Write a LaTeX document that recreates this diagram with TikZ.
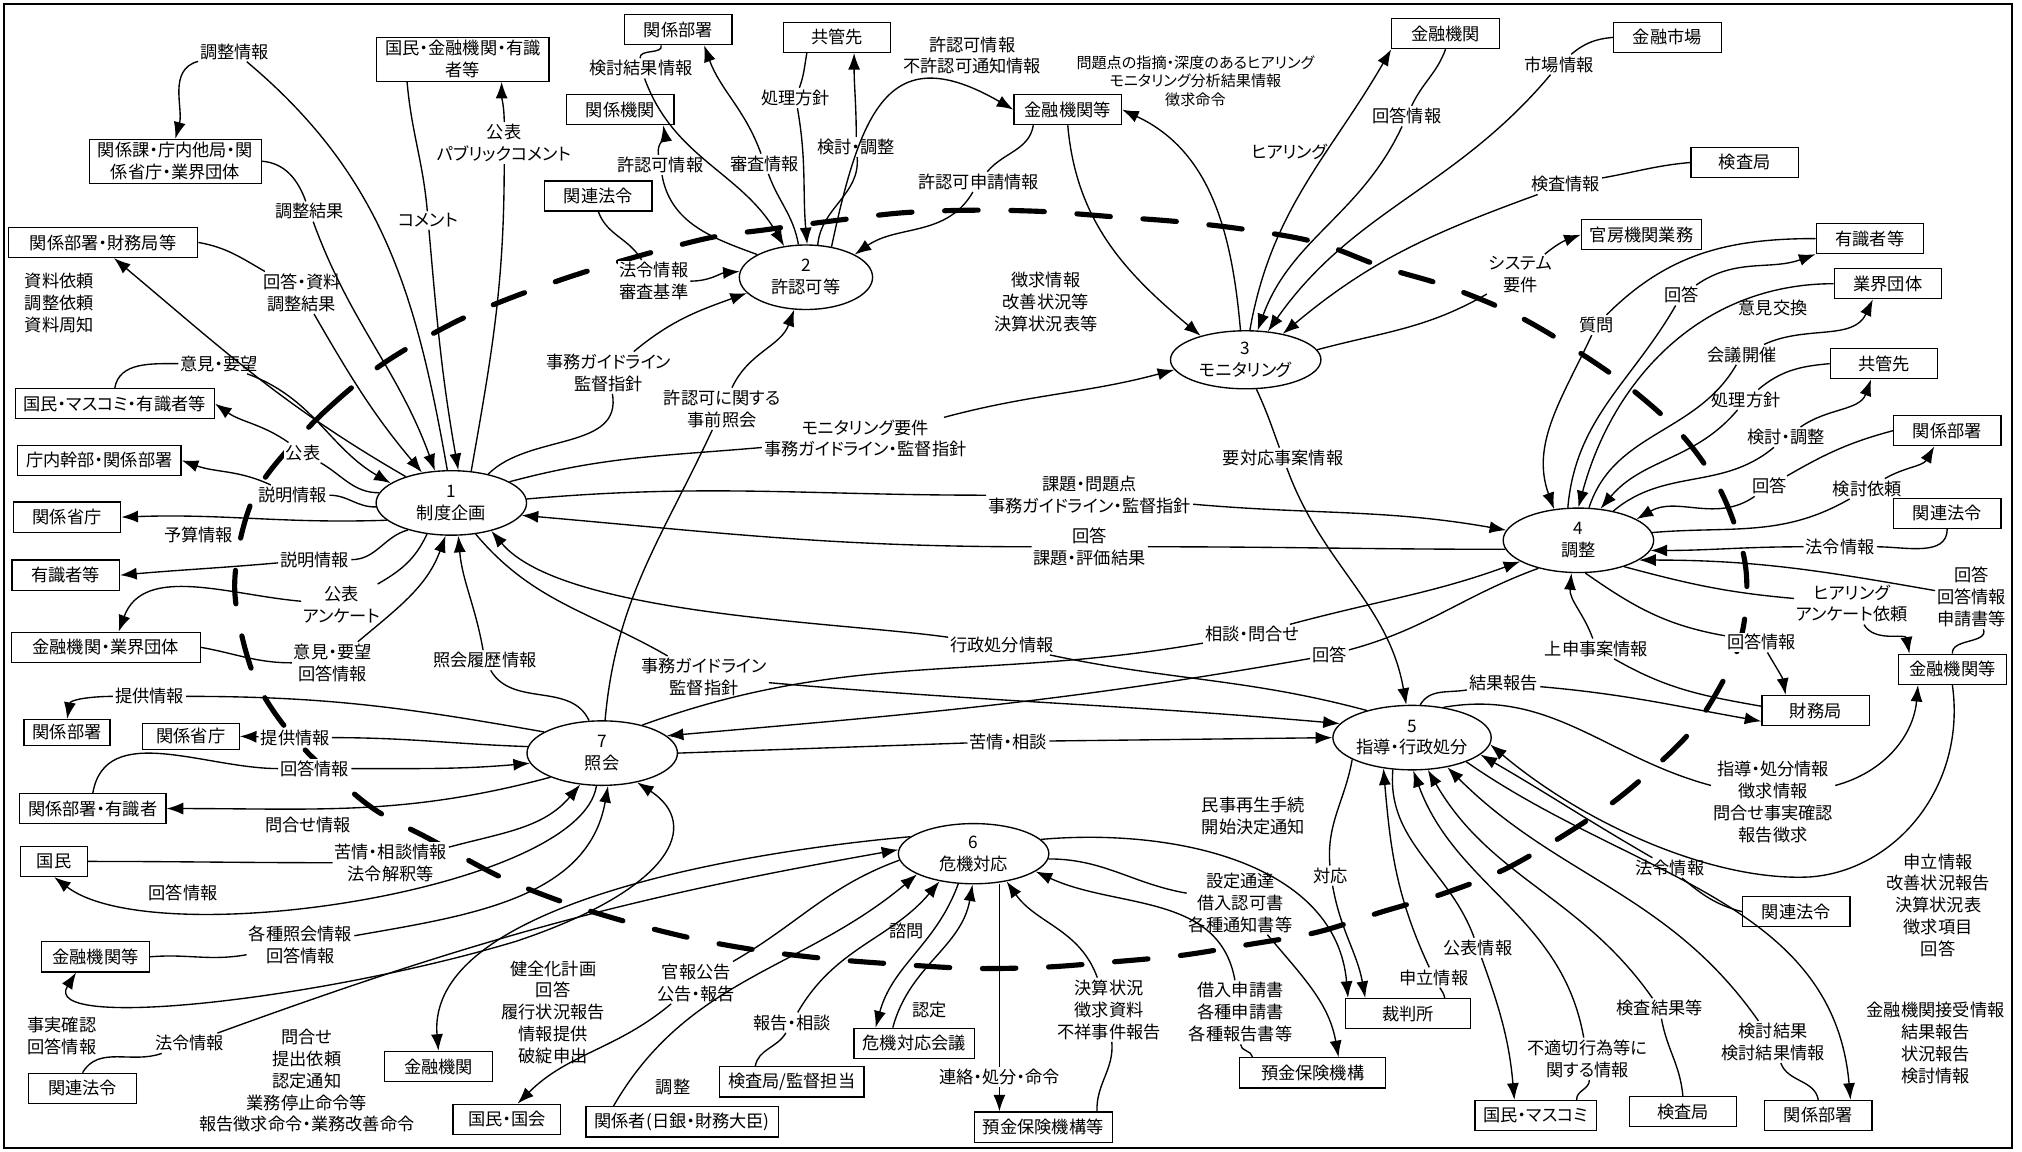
\documentclass[tikz,border=0pt]{standalone}
\usepackage{fontspec}
\setmainfont{Noto Sans CJK JP}[RawFeature=+palt]
\usetikzlibrary{shapes.geometric,arrows.meta}
\newcommand{\jpf}{\fontsize{11.4}{14.5}\selectfont}
\newcommand{\jps}{\fontsize{10}{12.5}\selectfont}
\tikzset{
  box/.style={draw,line width=0.8pt,fill=white,minimum width=2.5cm,minimum height=0.7cm,inner xsep=0.2cm,inner ysep=2pt,align=center,font=\jpf},
  proc/.style={draw,ellipse,line width=0.9pt,fill=white,minimum width=3.5cm,minimum height=1.5cm,inner sep=0pt,align=center,font=\jpf},
  lbl/.style={fill=white,inner sep=1pt,align=center,font=\jpf},
  flow/.style={-{Latex[length=11pt,width=8pt]}},
  twoway/.style={{Latex[length=11pt,width=8pt]}-{Latex[length=11pt,width=8pt]}},
  bound/.style={line width=3.4pt,dash pattern=on 0.78cm off 0.76cm,line cap=round}
}
\begin{document}
\begin{tikzpicture}[x=0.03cm,y=0.03cm,line width=0.9pt]
\useasboundingbox (0,0) rectangle (1568,-893);
\draw[line width=1.2pt] (3,-3) rectangle (1560,-890);

\draw[bound] plot[smooth cycle,tension=0.55] coordinates {(216,-357) (253,-318) (300,-280) (367,-243) (450,-212) (543,-186) (595,-178) (648,-171) (700,-165) (754,-163) (808,-164) (862,-168) (915,-172) (966,-178) (1021,-188) (1072,-207) (1122,-222) (1173,-243) (1218,-269) (1263,-300) (1304,-337) (1334,-380) (1352,-430) (1354,-470) (1345,-510) (1316,-561) (1282,-596) (1240,-630) (1173,-671) (1122,-692) (1072,-707) (1021,-723) (965,-733) (915,-741) (862,-746) (810,-750) (754,-751) (700,-748) (647,-744) (595,-738) (543,-729) (490,-716) (438,-700) (388,-680) (334,-651) (294,-630) (268,-610) (239,-584) (216,-557) (199,-529) (188,-495) (182,-457) (186,-420) (197,-385)};

% flow labels
\node[lbl] (lchojoho) at (182,-40) {調整情報};
\node[lbl] (lchoketsu) at (240,-164) {調整結果};
\node[lbl] (lkaito1) at (234,-227) {回答・資料\\調整結果};
\node[lbl,align=left] (lshiryo) at (46,-235) {資料依頼\\調整依頼\\資料周知};
\node[lbl] (lcomment) at (332,-171) {コメント};
\node[lbl] (lkohyo1) at (391,-111) {公表\\パブリックコメント};
\node[lbl] (liken1) at (170,-282) {意見・要望};
\node[lbl] (lkohyo2) at (235,-351) {公表};
\node[lbl] (lsetsu1) at (227,-384) {説明情報};
\node[lbl] (lyosan) at (154,-415) {予算情報};
\node[lbl] (lsetsu2) at (244,-434) {説明情報};
\node[lbl] (lkohyo3) at (265,-469) {公表\\アンケート};
\node[lbl] (liken2) at (258,-514) {意見・要望\\回答情報};
\node[lbl] (lshokairi) at (376,-512) {照会履歴情報};
\node[lbl] (ljimu1) at (472,-289) {事務ガイドライン\\監督指針};
\node[lbl] (ljimu2) at (546,-525) {事務ガイドライン\\監督指針};
\node[lbl] (ljizen) at (560,-317) {許認可に関する\\事前照会};
\node[lbl] (lmonreq) at (671,-340) {モニタリング要件\\事務ガイドライン・監督指針};
\node[lbl] (lkadai) at (845,-384) {課題・問題点\\事務ガイドライン・監督指針};
\node[lbl] (lkaito2) at (845,-424) {回答\\課題・評価結果};
\node[lbl] (lgyosei) at (777,-500) {行政処分情報};
\node[lbl] (lsodan) at (971,-492) {相談・問合せ};
\node[lbl] (lkaito3) at (1031,-508) {回答};
\node[lbl] (lkujo) at (782,-575) {苦情・相談};

\node[lbl] (lkento) at (497,-53) {検討結果情報};
\node[lbl] (lshinsa) at (593,-127) {審査情報};
\node[lbl] (lshori1) at (617,-76) {処理方針};
\node[lbl] (lkentochosei1) at (664,-114) {検討・調整};
\node[lbl] (lkyoninka) at (512,-128) {許認可情報};
\node[lbl] (lhorei1) at (507,-218) {法令情報\\審査基準};
\node[lbl] (lfukyo) at (754,-43) {許認可情報\\不許認可通知情報};
\node[lbl] (lshinsei) at (759,-141) {許認可申請情報};

\node[lbl,font=\jps,fill=none] (lmondai) at (927,-63) {問題点の指摘・深度のあるヒアリング\\モニタリング分析結果情報\\徴求命令};
\node[lbl] (lchoshu) at (811,-234) {徴求情報\\改善状況等\\決算状況表等};
\node[lbl] (lhearing) at (1000,-118) {ヒアリング};
\node[lbl] (lkaito4) at (1091,-90) {回答情報};
\node[lbl] (lshijo) at (1209,-50) {市場情報};
\node[lbl] (lkensa) at (1214,-143) {検査情報};
\node[lbl] (lsystem) at (1179,-213) {システム\\要件};
\node[lbl] (lyotaio) at (995,-355) {要対応事案情報};

\node[lbl] (lshitsumon) at (1238,-252) {質問};
\node[lbl] (lkaito5) at (1304,-229) {回答};
\node[lbl] (likenko) at (1375,-239) {意見交換};
\node[lbl] (lkaigi) at (1351,-275) {会議開催};
\node[lbl] (lshori2) at (1354,-310) {処理方針};
\node[lbl] (lkentochosei2) at (1385,-339) {検討・調整};
\node[lbl] (lkaito6) at (1372,-377) {回答};
\node[lbl] (lkentoirai) at (1448,-379) {検討依頼};
\node[lbl] (lhorei2) at (1427,-424) {法令情報};
\node[lbl] (lkaito7) at (1529,-463) {回答\\回答情報\\申請書等};
\node[lbl] (lhearing2) at (1436,-468) {ヒアリング\\アンケート依頼};
\node[lbl] (ljoshin) at (1238,-503) {上申事案情報};
\node[lbl] (lkaito8) at (1366,-498) {回答情報};
\node[lbl] (lkekka) at (1166,-530) {結果報告};

\node[lbl] (lshido) at (1375,-622) {指導・処分情報\\徴求情報\\問合せ事実確認\\報告徴求};
\node[lbl] (lmoshitate1) at (1503,-702) {申立情報\\改善状況報告\\決算状況表\\徴求項目\\回答};
\node[lbl] (lhorei3) at (1295,-673) {法令情報};
\node[lbl] (lkentokekka) at (1375,-808) {検討結果\\検討結果情報};
\node[lbl] (lsetsuju) at (1501,-809) {金融機関接受情報\\結果報告\\状況報告\\検討情報};
\node[lbl] (lkensakekka) at (1287,-782) {検査結果等};
\node[lbl] (lfutekisetsu) at (1231,-821) {不適切行為等に\\関する情報};
\node[lbl] (lkohyojoho) at (1146,-735) {公表情報};
\node[lbl] (ltaio) at (1032,-679) {対応};
\node[lbl] (lmoshitate2) at (1112,-758) {申立情報};

\node[lbl] (lminji) at (972,-633) {民事再生手続\\開始決定通知};
\node[lbl] (lsettei) at (962,-700) {設定通達\\借入認可書\\各種通知書等};
\node[lbl] (lkariire) at (962,-785) {借入申請書\\各種申請書\\各種報告書等};
\node[lbl] (lkessan) at (860,-783) {決算状況\\徴求資料\\不祥事件報告};
\node[lbl] (lrenraku) at (775,-835) {連絡・処分・命令};
\node[lbl] (lnintei) at (721,-783) {認定};
\node[lbl] (lshimon) at (703,-722) {諮問};
\node[lbl] (lhokoku) at (614,-793) {報告・相談};
\node[lbl] (lchosei) at (522,-843) {調整};
\node[lbl] (lkanpo) at (540,-762) {官報公告\\公告・報告};
\node[lbl] (lkenzen) at (429,-785) {健全化計画\\回答\\履行状況報告\\情報提供\\破綻申出};
\node[lbl] (ltoiawase) at (238,-838) {問合せ\\提出依頼\\認定通知\\業務停止命令等\\報告徴求命令・業務改善命令};
\node[lbl] (ljijitsu) at (48,-803) {事実確認\\回答情報};
\node[lbl] (lhorei4) at (147,-809) {法令情報};

\node[lbl] (lteikyo1) at (116,-540) {提供情報};
\node[lbl] (lteikyo2) at (229,-572) {提供情報};
\node[lbl] (lkaito9) at (244,-596) {回答情報};
\node[lbl] (ltoiawase2) at (239,-640) {問合せ情報};
\node[lbl] (lkujosodan) at (303,-669) {苦情・相談情報\\法令解釈等};
\node[lbl] (lkaito10) at (142,-692) {回答情報};
\node[lbl] (lkakushu) at (233,-733) {各種照会情報\\回答情報};

% outside parties
\node[box] (bkokuminA) at (359,-46) {国民・金融機関・有識\\者等};
\node[box] (bkankeika) at (136,-125) {関係課・庁内他局・関\\係省庁・業界団体};
\node[box,minimum width=4.4cm] (bzaimuA) at (80,-188) {関係部署・財務局等};
\node[box] (bmasukomi) at (89,-313) {国民・マスコミ・有識者等};
\node[box] (bkanbu) at (77,-357) {庁内幹部・関係部署};
\node[box] (bshochoA) at (52,-401) {関係省庁};
\node[box] (byushikiA) at (51,-446) {有識者等};
\node[box,minimum width=4.4cm] (bgyokaiA) at (82,-502) {金融機関・業界団体};
\node[box,minimum width=2cm,minimum height=0.6cm] (bbushoA) at (52,-568) {関係部署};
\node[box,minimum width=2.25cm,minimum height=0.6cm] (bshochoB) at (148,-571) {関係省庁};
\node[box] (bbushoyu) at (72,-627) {関係部署・有識者};
\node[box,minimum width=1.55cm] (bkokumin) at (42,-668) {国民};
\node[box] (bkikanL) at (74,-742) {金融機関等};
\node[box] (bhoreiL) at (64,-844) {関連法令};
\node[box] (bkinyu) at (340,-827) {金融機関};
\node[box] (bkokkai) at (393,-868) {国民・国会};
\node[box] (bkankeisha) at (529,-870) {関係者(日銀・財務大臣)};
\node[box] (bkensakan) at (614,-839) {検査局/監督担当};
\node[box] (bkaigi) at (709,-809) {危機対応会議};
\node[box] (byokinA) at (809,-874) {預金保険機構等};
\node[box,minimum width=3.4cm] (byokinB) at (1018,-832) {預金保険機構};
\node[box,minimum width=2.9cm] (bsaiban) at (1092,-786) {裁判所};
\node[box] (bmasukomiB) at (1191,-865) {国民・マスコミ};
\node[box] (bkensaB) at (1305,-862) {検査局};
\node[box] (bbushoB) at (1410,-865) {関係部署};
\node[box] (bhoreiR) at (1393,-707) {関連法令};
\node[box] (bzaimu) at (1408,-551) {財務局};
\node[box] (bkikanR) at (1514,-519) {金融機関等};
\node[box] (bhoreiM) at (1510,-398) {関連法令};
\node[box] (bbushoM) at (1510,-334) {関係部署};
\node[box] (bkyokanR) at (1461,-282) {共管先};
\node[box] (bgyokai) at (1464,-220) {業界団体};
\node[box] (byushikiR) at (1450,-185) {有識者等};
\node[box] (bkanbo) at (1273,-182) {官房機関業務};
\node[box] (bkensaT) at (1353,-126) {検査局};
\node[box] (bshijo) at (1293,-29) {金融市場};
\node[box] (bkinyuT) at (1121,-26) {金融機関};
\node[box] (bkikanT) at (828,-85) {金融機関等};
\node[box] (bkyokanT) at (649,-29) {共管先};
\node[box] (bbushoT) at (526,-23) {関係部署};
\node[box] (bkikan) at (481,-85) {関係機関};
\node[box] (bhoreiT) at (464,-152) {関連法令};

% processes
\node[proc] (p1) at (350,-390) {1\\制度企画};
\node[proc,minimum width=3.1cm] (p2) at (625,-215) {2\\許認可等};
\node[proc,minimum height=1.35cm] (p3) at (966,-279) {3\\モニタリング};
\node[proc] (p4) at (1224,-419) {4\\調整};
\node[proc] (p5) at (1095,-572) {5\\指導・行政処分};
\node[proc,minimum height=1.4cm] (p6) at (755,-662) {6\\危機対応};
\node[proc] (p7) at (467,-584) {7\\照会};

% 1 制度企画
\draw (p1.97) to[out=100,in=-40] (lchojoho);
\draw[flow] (lchojoho) to[out=195,in=75] (bkankeika.north);
\draw (bkankeika.east) to[out=-5,in=110] (lchoketsu);
\draw[flow] (lchoketsu) to[out=-70,in=110] (p1.117);
\draw (bzaimuA.east) to[out=-10,in=150] (lkaito1);
\draw[flow] (lkaito1) to[out=-60,in=130] (p1.134);
\draw[flow] (p1.150) to[out=150,in=-40] ([xshift=0.25cm]bzaimuA.south);
\draw ([xshift=-1.3cm]bkokuminA.south) to[out=-85,in=95] (lcomment);
\draw[flow] (lcomment) to[out=-85,in=100] (p1.78);
\draw (p1.58) to[out=80,in=-90] (lkohyo1);
\draw[flow] (lkohyo1) to[out=90,in=-90] ([xshift=0.9cm]bkokuminA.south);
\draw (bmasukomi.north) to[out=80,in=180] (liken1);
\draw[flow] (liken1) to[out=-20,in=150] (p1.162);
\draw (p1.172) to[out=180,in=-30] (lkohyo2);
\draw[flow] (lkohyo2) to[out=145,in=-35] (bmasukomi.east);
\draw (p1.183) to[out=182,in=0] (lsetsu1);
\draw[flow] (lsetsu1) to[out=155,in=-20] (bkanbu.east);
\draw[flow] (p1.195) to[out=182,in=2] (bshochoA.east);
\draw (p1.212) to[out=195,in=0] (lsetsu2);
\draw[flow] (lsetsu2) to[out=185,in=5] (byushikiA.east);
\draw (p1.232) to[out=245,in=30] (lkohyo3);
\draw[flow] (lkohyo3) to[out=175,in=70] ([xshift=0.3cm]bgyokaiA.north);
\draw (bgyokaiA.east) to[out=-10,in=180] (liken2);
\draw[flow] (liken2) to[out=40,in=-110] (p1.-100);
\draw (p7.112) to[out=115,in=-60] (lshokairi);
\draw[flow] (lshokairi) to[out=100,in=-85] (p1.-78);
\draw (p5.149) to[out=165,in=-12] (lgyosei);
\draw[flow] (lgyosei) to[out=172,in=-50,looseness=0.6] (p1.-35);
\draw (p1.-52) to[out=-50,in=150] (ljimu2);
\draw[flow] (ljimu2) to[out=-5,in=175] (p5.169);
\draw (p1.20) to[out=15,in=185] (lmonreq);
\draw[flow] (lmonreq) to[out=15,in=195] (p3.188);
\draw (p1.3) to[out=5,in=180] (lkadai);
\draw[flow] (lkadai) to[out=-5,in=170] (p4.172);
\draw (p4.187) to[out=180,in=0] (lkaito2);
\draw[flow] (lkaito2) to[out=180,in=-5] (p1.-10);
\draw (p1.38) to[out=45,in=-80] (ljimu1);
\draw[flow] (ljimu1) to[out=40,in=200] (p2.195);

% 2 許認可等
\draw (p7.85) to[out=85,in=-115] (ljizen);
\draw[flow] (ljizen) to[out=65,in=-110] (p2.-110);
\draw (bhoreiT.south) to[out=-70,in=120] (lhorei1);
\draw[flow] (lhorei1) to[out=0,in=185] (p2.175);
\draw (p2.155) to[out=160,in=-80] (lkyoninka);
\draw[flow] (lkyoninka) to[out=100,in=-80] ([xshift=1cm]bkikan.south);
\draw ([xshift=-0.4cm]bbushoT.south) to[out=-75,in=95] (lkento);
\draw[flow] (lkento) to[out=-70,in=120] (p2.125);
\draw (p2.103) to[out=100,in=-70] (lshinsa);
\draw[flow] (lshinsa) to[out=110,in=-70] ([xshift=0.6cm]bbushoT.south);
\draw ([xshift=-0.7cm]bkyokanT.south) to[out=-100,in=70] (lshori1);
\draw[flow] (lshori1) to[out=-80,in=95] (p2.88);
\draw (p2.70) to[out=85,in=-85] (lkentochosei1);
\draw[flow] (lkentochosei1) to[out=90,in=-90] ([xshift=0.4cm]bkyokanT.south);
\draw[flow] (p2.50) to[out=78,in=150,looseness=1.6] (bkikanT.west);
\draw ([xshift=-0.8cm]bkikanT.south) to[out=-100,in=50] (lshinsei);
\draw[flow] (lshinsei) to[out=-120,in=35] (p2.25);

% 3 モニタリング
\draw[flow] (bkikanT.south) to[out=-85,in=140] (p3.152);
\draw[flow] (p3.100) to[out=95,in=-25] (bkikanT.east);
\draw[flow] (p3.82) to[out=80,in=-120] (bkinyuT.south west);
\draw (bkinyuT.south) to[out=-110,in=65] (lkaito4);
\draw[flow] (lkaito4) to[out=-115,in=70] (p3.68);
\draw (bshijo.west) to[out=185,in=40] (lshijo);
\draw[flow] (lshijo) to[out=-130,in=55] (p3.52);
\draw (bkensaT.west) to[out=185,in=10] (lkensa);
\draw[flow] (lkensa) to[out=200,in=40] (p3.35);
\draw (p3.8) to[out=15,in=210] (lsystem);
\draw[flow] (lsystem) to[out=40,in=200] (bkanbo.west);
\draw (p3.-70) to[out=-65,in=110] (lyotaio);
\draw[flow] (lyotaio) to[out=-70,in=100] (p5.100);

% 4 調整
\draw (byushikiR.west) to[out=180,in=45] (lshitsumon);
\draw[flow] (lshitsumon) to[out=-115,in=110] (p4.128);
\draw (p4.108) to[out=85,in=-120] (lkaito5);
\draw[flow] (lkaito5) to[out=35,in=200] (byushikiR.south west);
\draw[flow] (bgyokai.west) to[out=180,in=75] (p4.90);
\draw (p4.72) to[out=72,in=-120] (lkaigi);
\draw[flow] (lkaigi) to[out=25,in=-115] ([xshift=-0.35cm]bgyokai.south);
\draw (bkyokanR.west) to[out=185,in=40] (lshori2);
\draw[flow] (lshori2) to[out=-130,in=50] (p4.55);
\draw (p4.40) to[out=40,in=-140] (lkentochosei2);
\draw[flow] (lkentochosei2) to[out=35,in=-110] ([xshift=-0.3cm]bkyokanR.south);
\draw (bbushoM.west) to[out=195,in=30] (lkaito6);
\draw[flow] (lkaito6) to[out=-145,in=30] (p4.20);
\draw (p4.6) to[out=5,in=-150] (lkentoirai);
\draw[flow] (lkentoirai) to[out=30,in=-120] ([xshift=-0.3cm]bbushoM.south);
\draw (bhoreiM.south) to[out=-90,in=0] (lhorei2);
\draw[flow] (lhorei2) to[out=180,in=0] (p4.-8);
\draw (bkikanR.north) to[out=95,in=-70] (lkaito7);
\draw[flow] (lkaito7) to[out=170,in=0] (p4.-18);
\draw (p4.-30) to[out=-15,in=175] (lhearing2);
\draw[flow] (lhearing2) to[out=-60,in=100] ([xshift=-1cm]bkikanR.north);
\draw ([yshift=0.1cm]bzaimu.west) to[out=170,in=-30] (ljoshin);
\draw[flow] (ljoshin) to[out=110,in=-95] (p4.-102);
\draw (p4.-78) to[out=-35,in=170] (lkaito8);
\draw[flow] (lkaito8) to[out=-60,in=100] ([xshift=-0.7cm]bzaimu.north);
\draw (p5.76) to[out=60,in=190] (lkekka);
\draw[flow] (lkekka) to[out=-5,in=170] ([yshift=-0.25cm]bzaimu.west);
\draw (p7.35) to[out=20,in=190] (lsodan);
\draw[flow] (lsodan) to[out=15,in=200] (p4.200);
\draw (p4.215) to[out=200,in=15] (lkaito3);
\draw[flow] (lkaito3) to[out=190,in=5] (p7.15);

% 5 指導・行政処分
\draw (p7.east) -- (lkujo);
\draw[flow] (lkujo) -- (p5.west);
\draw (p5.44) to[out=10,in=165] (lshido);
\draw[flow] (lshido) to[out=15,in=-95] ([xshift=-0.8cm]bkikanR.south);
\draw[flow] (bkikanR.south) .. controls (1525,-610) and (1470,-675) .. (1404,-680) .. controls (1330,-684) and (1230,-640) .. (p5.-5);
\draw (bhoreiR.west) to[out=165,in=-40] (lhorei3);
\draw[flow] (lhorei3) to[out=150,in=-30] (p5.-14);
\draw (bbushoB.north) to[out=100,in=-70] (lkentokekka);
\draw[flow] (lkentokekka) to[out=125,in=-45] (p5.-40);
\draw[flow] (p5.-24) to[out=-35,in=95] ([xshift=0.75cm]bbushoB.north);
\draw (bkensaB.north) to[out=95,in=-80] (lkensakekka);
\draw[flow] (lkensakekka) to[out=125,in=-60] (p5.-64);
\draw ([xshift=0.95cm]bmasukomiB.north) to[out=95,in=-85] (lfutekisetsu);
\draw[flow] (lfutekisetsu) to[out=100,in=-70] (p5.-88);
\draw (p5.-121) to[out=-95,in=110] (lkohyojoho);
\draw[flow] (lkohyojoho) to[out=-70,in=95] ([xshift=-0.5cm]bmasukomiB.north);
\draw (p5.-160) to[out=-100,in=95] (ltaio);
\draw[flow] (ltaio) to[out=-80,in=100] ([xshift=-1cm]bsaiban.north);
\draw ([xshift=0.85cm]bsaiban.north) to[out=100,in=-60] (lmoshitate2);
\draw[flow] (lmoshitate2) to[out=115,in=-85] (p5.-133);

% 6 危機対応
\draw[flow] (p6.12) to[out=5,in=95] ([xshift=-1.4cm]bsaiban.north);
\draw (p6.-4) to[out=0,in=170] (lsettei);
\draw[flow] (lsettei) to[out=-50,in=100] ([xshift=0.6cm]byokinB.north);
\draw ([xshift=-1.4cm]byokinB.north) to[out=95,in=-90] (lkariire);
\draw[flow] (lkariire) to[out=100,in=-25] (p6.-16);
\draw ([xshift=1.25cm]byokinA.north) to[out=92,in=-85] (lkessan);
\draw[flow] (lkessan) to[out=110,in=-55] (p6.-40);
\draw (lrenraku |- p6.south) -- (lrenraku);
\draw[flow] (lrenraku) -- (lrenraku |- byokinA.north);
\draw[flow] ([xshift=-0.5cm]bkaigi.north) to[out=75,in=-100] (p6.-92);
\draw[flow] (p6.-117) to[out=-110,in=75] ([xshift=-0.9cm]bkaigi.north);
\draw ([xshift=-0.85cm]bkensakan.north) to[out=80,in=-120] (lhokoku);
\draw[flow] (lhokoku) to[out=60,in=-130] (p6.-141);
\draw[flow] ([xshift=-1.6cm]bkankeisha.north) to[out=60,in=-140] (p6.-160);
\draw (p6.185) to[out=200,in=30] (lkanpo);
\draw[flow] (lkanpo) to[out=220,in=45] ([xshift=0.25cm]bkokkai.north);
\draw[flow] (p6.165) .. controls (580,-660) and (330,-700) .. (bkinyu.north);
\draw (bhoreiL.north) to[out=60,in=200] (lhorei4);
\draw[flow] (lhorei4) to[out=20,in=190] (p6.177);

% 7 照会
\draw (p7.160) to[out=170,in=0] (lteikyo1);
\draw[flow] (lteikyo1) to[out=180,in=80] (bbushoA.north);
\draw (p7.175) to[out=178,in=0] (lteikyo2);
\draw[flow] (lteikyo2) -- (bshochoB.east);
\draw (bbushoyu.north) to[out=80,in=180] (lkaito9);
\draw[flow] (lkaito9) to[out=0,in=185] (p7.188);
\draw[flow] (p7.205) to[out=195,in=0] (bbushoyu.east);
\draw (bkokumin.east) to[out=0,in=180] (lkujosodan);
\draw[flow] (lkujosodan) to[out=15,in=-130] (p7.-125);
\draw[flow] (p7.-100) .. controls (450,-690) and (120,-740) .. (bkokumin.south);
\draw (bkikanL.east) to[out=5,in=190] (lkakushu);
\draw[flow] (lkakushu) to[out=10,in=-100] (p7.-80);
\draw[twoway] (p7.-40) .. controls (545,-640) and (520,-690) .. (400,-730) .. controls (250,-775) and (30,-800) .. ([xshift=-0.45cm]bkikanL.south);
\end{tikzpicture}
\end{document}
